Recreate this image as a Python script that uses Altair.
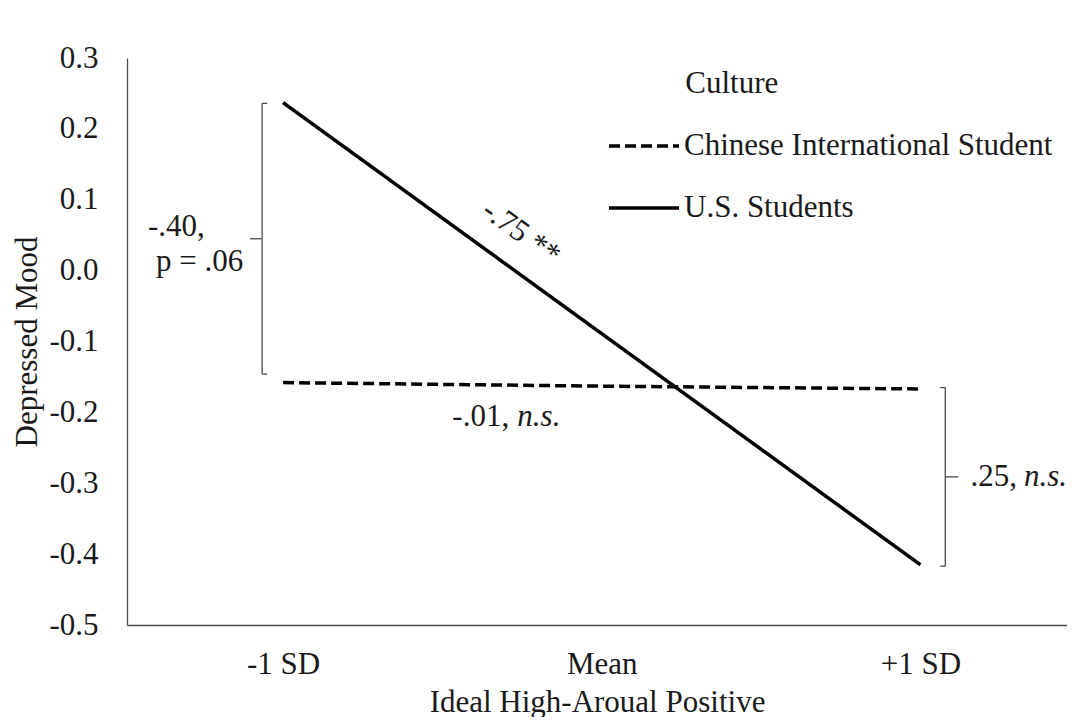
import altair as alt
import pandas as pd

# ---- data ----
levels = ["-1 SD", "Mean", "+1 SD"]
level_pos = [0, 1, 2]
chinese = [-0.158, -0.163, -0.167]
us = [0.237, -0.089, -0.415]
groups = ["Chinese International Student", "U.S. Students"]
y_ticks = [-0.5, -0.4, -0.3, -0.2, -0.1, 0.0, 0.1, 0.2, 0.3]

FONT = "Liberation Serif"
FS = 31
INK = "#000000"
TXT = "#1a1a1a"
AX = "#4d4d4d"

rows = []
for g, vals in zip(groups, [chinese, us]):
    for lv, p, v in zip(levels, level_pos, vals):
        rows.append({"Culture": g, "level": lv, "x": p, "y": v})
df = pd.DataFrame(rows)

label_expr = " : ".join(
    f"datum.value == {p} ? '{lv}'" for p, lv in zip(level_pos[:-1], levels[:-1])
) + f" : '{levels[-1]}'"

xscale = alt.Scale(domain=[-0.49, 2.46], nice=False, zero=False)
yscale = alt.Scale(domain=[-0.5, 0.3], nice=False, zero=False)

lines = alt.Chart(df).mark_line(strokeWidth=3.5, color=INK, strokeCap="butt").encode(
    x=alt.X("x:Q", scale=xscale,
            axis=alt.Axis(values=level_pos, labelExpr=label_expr, ticks=False, grid=False,
                          title="Ideal High-Aroual Positive", labelPadding=24, titlePadding=8)),
    y=alt.Y("y:Q", scale=yscale,
            axis=alt.Axis(values=y_ticks,
                          labelExpr="(datum.value < -0.00001 ? '-' : '') + format(abs(datum.value), '.1f')",
                          grid=False, ticks=False, labelPadding=29, title="Depressed Mood",
                          titlePadding=5)),
    strokeDash=alt.StrokeDash("Culture:N",
                              scale=alt.Scale(domain=groups, range=[[11, 5], [1, 0]]),
                              legend=alt.Legend(orient="none", legendX=480, legendY=51, title=None,
                                                symbolType="stroke", symbolSize=4900,
                                                symbolStrokeWidth=3.5, symbolStrokeColor=INK,
                                                labelFont=FONT, labelFontSize=FS, labelColor=TXT,
                                                labelOffset=3, rowPadding=10, labelLimit=800)),
    detail="Culture:N",
)

# ---- brackets (data space) ----
brackets = pd.DataFrame([
    # left bracket
    {"x": -0.066, "x2": -0.066, "y": 0.236, "y2": -0.146},
    {"x": -0.066, "x2": -0.050, "y": 0.236, "y2": 0.236},
    {"x": -0.066, "x2": -0.050, "y": -0.146, "y2": -0.146},
    {"x": -0.104, "x2": -0.066, "y": 0.045, "y2": 0.045},
    # right bracket
    {"x": 2.078, "x2": 2.078, "y": -0.165, "y2": -0.417},
    {"x": 2.062, "x2": 2.078, "y": -0.165, "y2": -0.165},
    {"x": 2.062, "x2": 2.078, "y": -0.417, "y2": -0.417},
    {"x": 2.078, "x2": 2.119, "y": -0.291, "y2": -0.291},
])
br = alt.Chart(brackets).mark_rule(color=AX, strokeWidth=1.3).encode(
    x=alt.X("x:Q", scale=xscale), x2="x2:Q",
    y=alt.Y("y:Q", scale=yscale), y2="y2:Q",
)

# ---- annotations ----
ann_normal = pd.DataFrame([
    {"x": -0.424, "y": 0.061, "t": "-.40,"},
    {"x": -0.399, "y": 0.012, "t": "p = .06"},
    {"x": 0.531, "y": -0.2063, "t": "-.01,"},
    {"x": 2.157, "y": -0.291, "t": ".25,"},
    {"x": 1.262, "y": 0.263, "t": "Culture"},
])
ann_italic = pd.DataFrame([
    {"x": 0.735, "y": -0.2063, "t": "n.s."},
    {"x": 2.325, "y": -0.291, "t": "n.s."},
])

t_norm = alt.Chart(ann_normal).mark_text(
    font=FONT, fontSize=FS, color=TXT, align="left", baseline="middle").encode(
    x=alt.X("x:Q", scale=xscale), y=alt.Y("y:Q", scale=yscale), text="t:N")
t_it = alt.Chart(ann_italic).mark_text(
    font=FONT, fontSize=FS, color=TXT, fontStyle="italic", align="left", baseline="middle").encode(
    x=alt.X("x:Q", scale=xscale), y=alt.Y("y:Q", scale=yscale), text="t:N")
slope = alt.Chart(pd.DataFrame([{"x": 0.747, "y": 0.053, "t": "-.75 **"}])).mark_text(
    font=FONT, fontSize=FS, color=TXT, angle=36, align="center", baseline="middle").encode(
    x=alt.X("x:Q", scale=xscale), y=alt.Y("y:Q", scale=yscale), text="t:N")

chart = alt.layer(lines, br, t_norm, t_it, slope).properties(
    width=940, height=567,
    autosize=alt.AutoSizeParams(type="none"),
    padding={"left": 119, "top": 50, "right": 0, "bottom": 92},
    background="white",
).configure_view(stroke=None).configure_axis(
    domainColor=AX, domainWidth=1.3, labelFont=FONT, labelFontSize=FS,
    labelColor=TXT, titleFont=FONT, titleFontSize=FS, titleColor=TXT, titleFontWeight="normal",
)

chart.save("out.html", embed_options={"renderer": "svg", "actions": False})
